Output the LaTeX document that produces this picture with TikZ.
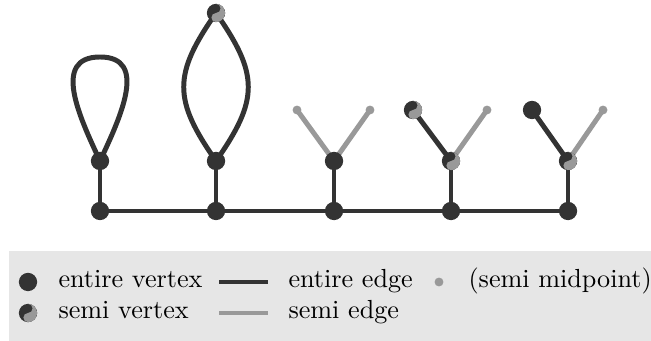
\documentclass[tikz,border=0pt]{standalone}
\usetikzlibrary{positioning}
\definecolor{darkV}{HTML}{333333}
\definecolor{semiC}{HTML}{999999}
\definecolor{boxC}{HTML}{E6E6E6}
\tikzset{
    entireE/.style={draw=darkV, line width=1.9pt},
    semiE/.style={draw=semiC, line width=1.9pt},
    entireV/.style={draw=none, fill=darkV, circle, inner sep=0pt, minimum size=7pt},
    semiV/.style={entireV,
        path picture={
            \begin{scope}[shift={(path picture bounding box.center)}, rotate=30]
            \fill[semiC] (0,3.5pt) arc[start angle=90, end angle=-90, radius=3.5pt]
                arc[start angle=-90, end angle=-270, radius=1.75pt]
                arc[start angle=-90, end angle=90, radius=1.75pt] -- cycle;
            \end{scope}
        }
    },
    semiM/.style={draw=none, fill=semiC, circle, inner sep=0pt, minimum size=3.4pt},
    keytext/.style={anchor=mid west, inner sep=0pt}
}
\begin{document}
\begin{tikzpicture}[x=0.3824pt, y=0.3824pt]
    \useasboundingbox (0,0) rectangle (651,341);
    \fill[boxC] (9,0) rectangle (651,90);
    % base row and upper row
    \foreach \i/\x in {1/100, 2/216, 3/334, 4/451, 5/568}{
    \coordinate (b\i) at (\x,130);
    \coordinate (u\i) at (\x,180);}
    \coordinate (t1) at (100,284);
    \coordinate (t2) at (216,328);
    \coordinate (l3) at (297,231);
    \coordinate (r3) at (370,231);
    \coordinate (l4) at (413,231);
    \coordinate (r4) at (487,231);
    \coordinate (l5) at (532,231);
    \coordinate (r5) at (603,231);
    \draw[entireE] (b1) -- (b5);
    \foreach \i in {1,...,5}{
    \draw[entireE] (b\i) -- (u\i);}
    \draw[entireE] (u1) to[out=115, in=180, looseness=1.2] (t1) to[out=0, in=65, looseness=1.2] (u1);
    \draw[entireE] (u2) to[bend left=35, looseness=1.3] (t2);
    \draw[entireE] (u2) to[bend right=35, looseness=1.3] (t2);
    \draw[semiE] (u3) -- (l3);
    \draw[semiE] (u3) -- (r3);
    \draw[entireE] (u4) -- (l4);
    \draw[semiE] (u4) -- (r4);
    \draw[entireE] (u5) -- (l5);
    \draw[semiE] (u5) -- (r5);
    \foreach \i in {1,...,5}{
    \node[entireV] at (b\i) {};}
    \node[entireV] at (u1) {};
    \node[entireV] at (u2) {};
    \node[entireV] at (u3) {};
    \node[semiV] at (u4) {};
    \node[semiV] at (u5) {};
    \node[semiV] at (t2) {};
    \node[semiM] at (l3) {};
    \node[semiM] at (r3) {};
    \node[semiV] at (l4) {};
    \node[semiM] at (r4) {};
    \node[entireV] at (l5) {};
    \node[semiM] at (r5) {};
    % key
    \coordinate (kE1) at (219,59);
    \coordinate (kE2) at (268,59);
    \coordinate (kS1) at (219,28);
    \coordinate (kS2) at (268,28);
    \draw[entireE] (kE1) -- (kE2);
    \draw[semiE] (kS1) -- (kS2);
    \node[entireV] (kV) at (28,59) {};
    \node[semiV] (kW) at (28,28) {};
    \node[semiM] (kM) at (439,59) {};
    \node[keytext] (kVt) at (58,59) {entire vertex};
    \node[keytext] (kWt) at (58,28) {semi vertex};
    \node[keytext] (kEt) at (288,59) {entire edge};
    \node[keytext] (kSt) at (288,28) {semi edge};
    \node[keytext] (kMt) at (468,59) {(semi midpoint)};
\end{tikzpicture}
\end{document}
